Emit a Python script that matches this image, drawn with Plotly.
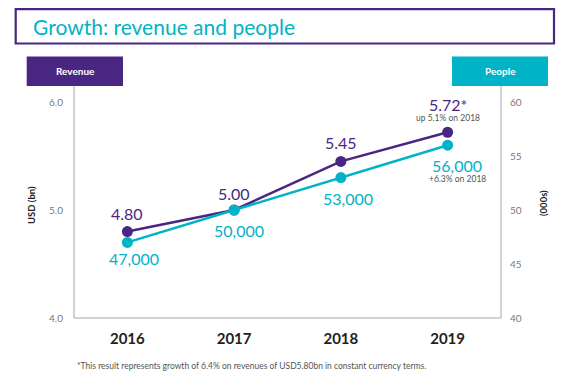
import plotly.graph_objects as go

years = ["2016", "2017", "2018", "2019"]
revenue = [4.80, 5.00, 5.45, 5.72]
people = [47, 50, 53, 56]
revenue_labels = ["4.80", "5.00", "5.45", "5.72*"]
people_labels = ["47,000", "50,000", "53,000", "56,000"]
rev_ticks = [4.0, 5.0, 6.0]
rev_ticktext = ["4.0", "5.0", "6.0"]
ppl_ticks = [40, 45, 50, 55, 60]

PURPLE = "#4a2683"
TEAL = "#00b3c6"
GREY = "#c4c4c4"
FONT = "Lato"

# page body has an 8px default margin; work in reference pixel coords and offset
OFF = 8
W, H = 568 - OFF, 381 - OFF
L, R, T, B = 74 - OFF, 67, 102 - OFF, 63
PW, PH = W - L - R, H - T - B


def px(x):
    return (x - OFF - L) / PW


def py(y):
    return (H - B - (y - OFF)) / PH


xpos = list(range(len(years)))

fig = go.Figure()
fig.add_trace(go.Scatter(
    x=xpos, y=revenue, mode="lines+markers", yaxis="y",
    line=dict(color=PURPLE, width=2.5), marker=dict(size=11, color=PURPLE),
    hoverinfo="skip", showlegend=False))
fig.add_trace(go.Scatter(
    x=xpos, y=people, mode="lines+markers", yaxis="y2",
    line=dict(color=TEAL, width=2.5), marker=dict(size=11, color=TEAL),
    hoverinfo="skip", showlegend=False))

ann = []
rev_shift = [18, 17, 19, 28]
for i, (v, t) in enumerate(zip(revenue, revenue_labels)):
    ann.append(dict(x=xpos[i], y=v, xref="x", yref="y", text=t, showarrow=False,
                    yshift=rev_shift[i], xshift=0, xanchor="center", yanchor="middle",
                    font=dict(family=FONT, size=16, color=PURPLE)))
ppl_shift = [-16, -20, -21, -20]
ppl_xshift = [7, 5, 7, 9]
for i, (v, t) in enumerate(zip(people, people_labels)):
    ann.append(dict(x=xpos[i], y=v, xref="x", yref="y2", text=t, showarrow=False,
                    yshift=ppl_shift[i], xshift=ppl_xshift[i], xanchor="center",
                    yanchor="middle", font=dict(family=FONT, size=16, color=TEAL)))
ann.append(dict(x=xpos[3], y=revenue[3], xref="x", yref="y", text="up 5.1% on 2018",
                showarrow=False, yshift=14, xshift=0, xanchor="center", yanchor="middle",
                font=dict(family=FONT, size=8.5, color="#555555")))
ann.append(dict(x=xpos[3], y=people[3], xref="x", yref="y2", text="+6.3% on 2018",
                showarrow=False, yshift=-34, xshift=10, xanchor="center", yanchor="middle",
                font=dict(family=FONT, size=8.5, color="#555555")))

# Title and header boxes
ann.append(dict(x=px(31), y=py(26.5), xref="paper", yref="paper", xanchor="left",
                yanchor="middle", text="Growth: revenue and people", showarrow=False,
                font=dict(family=FONT, size=21, color=TEAL)))
ann.append(dict(x=px(75), y=py(71), xref="paper", yref="paper", text="<b>Revenue</b>",
                xanchor="center", yanchor="middle",
                showarrow=False, font=dict(family=FONT, size=10, color="white")))
ann.append(dict(x=px(500), y=py(71), xref="paper", yref="paper", text="<b>People</b>",
                xanchor="center", yanchor="middle",
                showarrow=False, font=dict(family=FONT, size=10, color="white")))
ann.append(dict(x=px(31), y=py(205), xref="paper", yref="paper", text="<b>USD (bn)</b>",
                xanchor="center", yanchor="middle",
                textangle=-90, showarrow=False, font=dict(family=FONT, size=9.5, color="#222222")))
ann.append(dict(x=px(543), y=py(203), xref="paper", yref="paper", text="<b>(000s)</b>",
                xanchor="center", yanchor="middle",
                textangle=-90, showarrow=False, font=dict(family=FONT, size=9.5, color="#222222")))
ann.append(dict(x=px(75), y=py(366), xref="paper", yref="paper", xanchor="left",
                yanchor="middle",
                text="*This result represents growth of 6.4% on revenues of USD5.80bn in constant currency terms.",
                showarrow=False, font=dict(family=FONT, size=8.5, color="#555555")))

shapes = [
    dict(type="rect", xref="paper", yref="paper", x0=px(15.7), x1=px(554), y0=py(43.5), y1=py(9.2),
         line=dict(color=PURPLE, width=2.2), fillcolor="rgba(0,0,0,0)", layer="below"),
    dict(type="rect", xref="paper", yref="paper", x0=px(26.7), x1=px(123), y0=py(86), y1=py(56.5),
         line=dict(width=0), fillcolor=PURPLE, layer="below"),
    dict(type="rect", xref="paper", yref="paper", x0=px(452), x1=px(548), y0=py(86), y1=py(56.5),
         line=dict(width=0), fillcolor=TEAL, layer="below"),
    dict(type="line", xref="paper", yref="paper", x0=0, x1=0, y0=0, y1=py(86),
         line=dict(color=GREY, width=1.5), layer="below"),
    dict(type="line", xref="paper", yref="paper", x0=1, x1=1, y0=0, y1=py(86),
         line=dict(color=GREY, width=1.5), layer="below"),
    dict(type="line", xref="paper", yref="paper", x0=0, x1=1, y0=0, y1=0,
         line=dict(color=GREY, width=1.5), layer="below"),
]

fig.update_layout(
    width=W, height=H,
    margin=dict(l=L, r=R, t=T, b=B),
    paper_bgcolor="white", plot_bgcolor="white",
    font=dict(family=FONT),
    xaxis=dict(range=[-0.5, 3.5], tickvals=xpos, ticktext=years, showgrid=False,
               zeroline=False, showline=False, ticks="", ticklabelstandoff=10,
               tickfont=dict(family=FONT, size=15, color="#231f20", weight="bold")),
    yaxis=dict(range=[4, 6], tickvals=rev_ticks, ticktext=rev_ticktext, showgrid=False,
               zeroline=False, showline=False, ticks="", ticklabelstandoff=10,
               tickfont=dict(family=FONT, size=10, color="#777777")),
    yaxis2=dict(range=[40, 60], tickvals=ppl_ticks, overlaying="y", side="right",
                showgrid=False, zeroline=False, showline=False, ticks="",
                ticklabelstandoff=8, tickfont=dict(family=FONT, size=10, color="#777777")),
    annotations=ann, shapes=shapes,
)

fig.write_html("out.html")
